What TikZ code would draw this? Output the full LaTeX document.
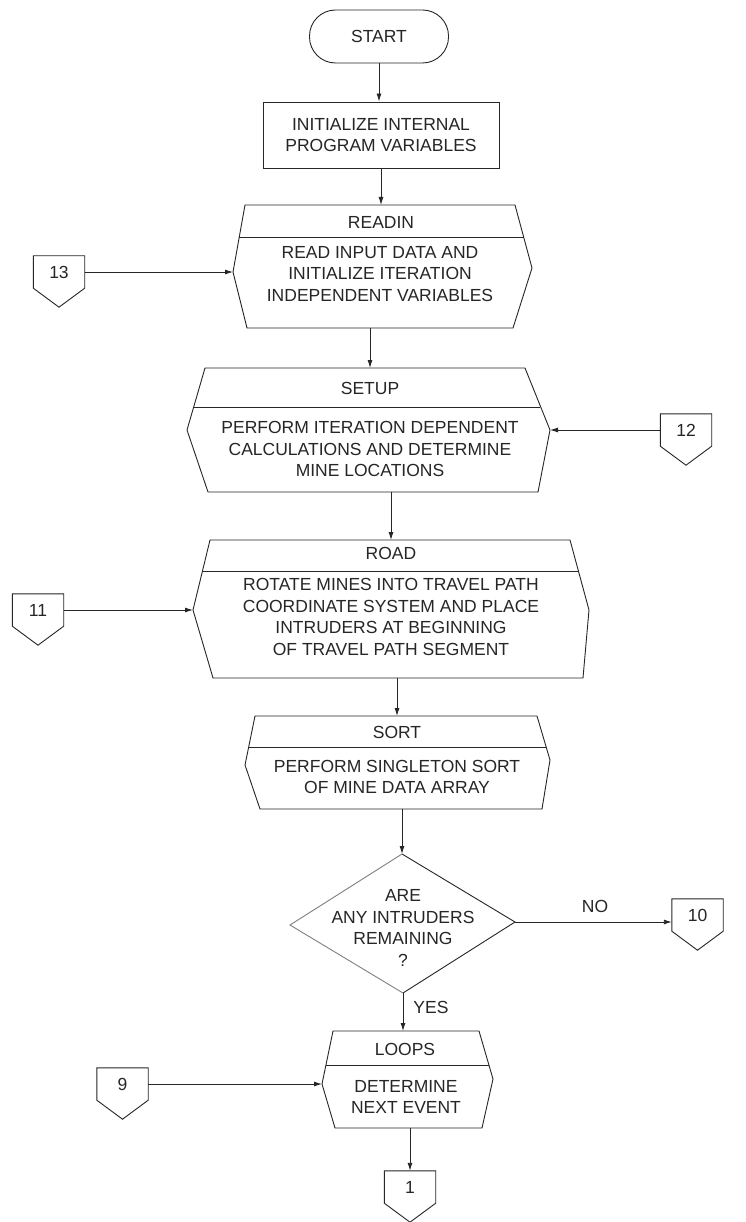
\documentclass[tikz,border=0pt]{standalone}
\usepackage{fontspec}
\setmainfont{Liberation Sans}
\usetikzlibrary{arrows.meta,calc}

% predefined-process box: name, nw, ne, e, se, sw, w, divider left, divider right
\newcommand\predefbox[9]{%
  \coordinate (#1-nw) at (#2);
  \coordinate (#1-ne) at (#3);
  \coordinate (#1-e)  at (#4);
  \coordinate (#1-se) at (#5);
  \coordinate (#1-sw) at (#6);
  \coordinate (#1-w)  at (#7);
  \coordinate (#1-dl) at (#8);
  \coordinate (#1-dr) at (#9);
  \draw[line] (#1-nw) -- (#1-ne) -- (#1-e) -- (#1-se) -- (#1-sw) -- (#1-w) -- cycle;
  \draw[line] (#1-dl) -- (#1-dr);
}

\begin{document}
\begin{tikzpicture}[x=1pt,y=-1pt,
  line/.style={draw=black!85,line width=0.9pt},
  arr/.style={line,-{Latex[length=8pt,width=5pt]}},
  lbl/.style={font=\fontsize{17.5}{21.5}\selectfont,inner sep=0pt,align=center,text=black!85},
  offpage/.style={lbl,minimum width=51pt,minimum height=32pt},
]
\useasboundingbox[fill=white] (0,0) rectangle (745,1222);

% terminal and first process
\node[line,lbl,rounded corners=26pt,minimum width=139pt,minimum height=53pt] (start) at (379,36.5) {START};
\node[line,lbl,minimum width=236pt,minimum height=66pt] (init) at (381,135) {INITIALIZE INTERNAL\\PROGRAM VARIABLES};

% READIN
\predefbox{readin}{245,205}{515,205}{532,268}{513,328}{247,328}{233,272}{239,237}{524,237}
\node[lbl] (readin) at (381,222) {READIN};
\node[lbl] (readin-body) at (380,274) {READ INPUT DATA AND\\INITIALIZE ITERATION\\INDEPENDENT VARIABLES};

% SETUP
\predefbox{setup}{205,368}{525,368}{550,430}{538,492}{208,492}{187,430}{194,407}{540,407}
\node[lbl] (setup) at (370,388) {SETUP};
\node[lbl] (setup-body) at (370,449) {PERFORM ITERATION DEPENDENT\\CALCULATIONS AND DETERMINE\\MINE LOCATIONS};

% ROAD
\predefbox{road}{210,540}{570,540}{589,610}{583,678}{213,678}{193,610}{202.5,571}{578.5,571}
\node[lbl] (road) at (391,553) {ROAD};
\node[lbl] (road-body) at (391,617) {ROTATE MINES INTO TRAVEL PATH\\COORDINATE SYSTEM AND PLACE\\INTRUDERS AT BEGINNING\\OF TRAVEL PATH SEGMENT};

% SORT
\predefbox{sort}{255,716}{537,716}{550,760}{542,809}{260,809}{245,765}{249,747}{546,747}
\node[lbl] (sort) at (397,732) {SORT};
\node[lbl] (sort-body) at (397,777) {PERFORM SINGLETON SORT\\OF MINE DATA ARRAY};

% decision
\coordinate (dec-n) at (402,854);
\coordinate (dec-e) at (515,922);
\coordinate (dec-s) at (403,993);
\coordinate (dec-w) at (290,925);
\draw[line] (dec-n) -- (dec-e) -- (dec-s);
\draw[line,draw=black!50] (dec-s) -- (dec-w) -- (dec-n);
\node[lbl] (dec) at (403,928) {ARE\\ANY INTRUDERS\\REMAINING\\?};
\node[lbl] (no) at (595,906) {NO};
\node[lbl] (yes) at (431,1007) {YES};

% LOOPS
\predefbox{loops}{333,1031}{479,1031}{493,1079}{482,1128}{335,1128}{322,1084}{326,1065}{489,1065}
\node[lbl] (loops) at (405,1049) {LOOPS};
\node[lbl] (loops-body) at (406,1097) {DETERMINE\\NEXT EVENT};

% off-page connectors
\node[offpage] (c13) at (59,272)    {13};
\node[offpage] (c12) at (686,430)   {12};
\node[offpage] (c11) at (38,610)    {11};
\node[offpage] (c10) at (697.5,915) {10};
\node[offpage] (c9)  at (122.5,1084){9};
\node[offpage] (c1)  at (410,1187)  {1};
\foreach \n in {c13,c12,c11,c10,c9,c1}
  \draw[line] (\n.north west) -- (\n.north east) -- (\n.south east)
    -- ($(\n.south)+(0,19)$) -- (\n.south west) -- cycle;

% main flow
\draw[arr] (start.south) -- (start.south |- init.north);
\draw[arr] (init.south) -- (init.south |- readin-nw);
\draw[arr] (setup |- readin-sw) -- (setup |- setup-nw);
\draw[arr] (road |- setup-sw) -- (road |- road-nw);
\draw[arr] (sort |- road-sw) -- (sort |- sort-nw);
\draw[arr] (dec-n |- sort-sw) -- (dec-n);
\draw[arr] (dec-s) -- (dec-s |- loops-nw);
\draw[arr] (c1 |- loops-sw) -- (c1.north);

% connector links
\draw[arr] (c13.east) -- (readin-w);
\draw[arr] (c12.west) -- (setup-e);
\draw[arr] (c11.east) -- (road-w);
\draw[arr] (dec-e) -- (dec-e -| c10.west);
\draw[arr] (c9.east) -- (loops-w);
\end{tikzpicture}
\end{document}
